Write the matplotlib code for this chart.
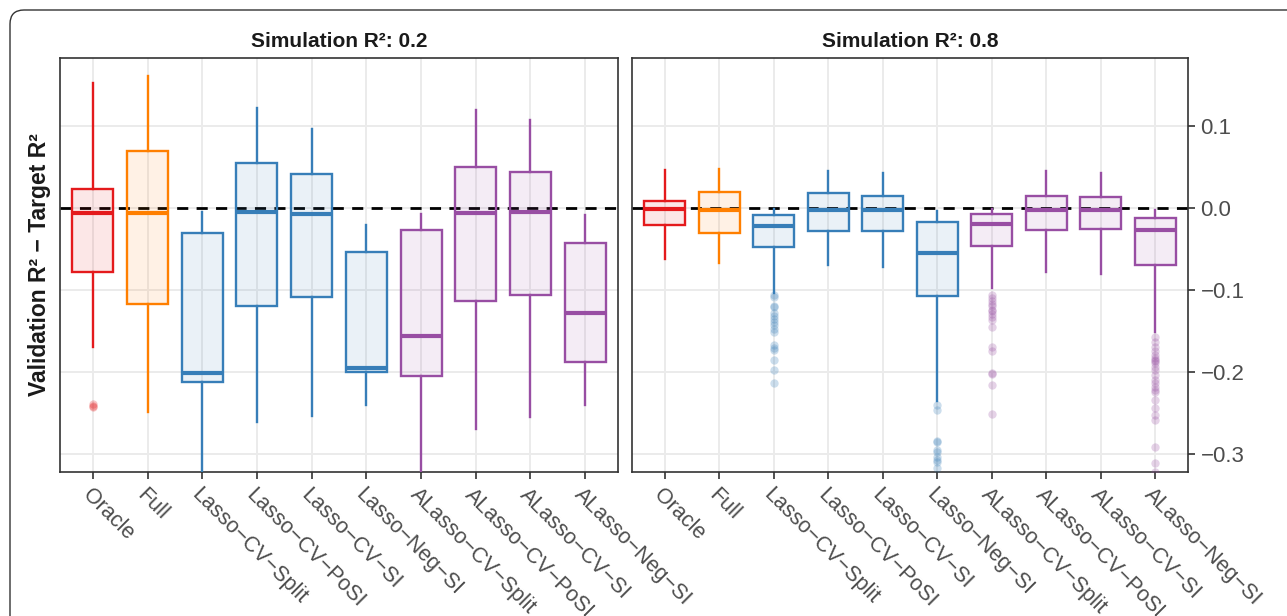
import matplotlib.pyplot as plt
from matplotlib.colors import to_rgba
from matplotlib.patches import FancyBboxPatch
from matplotlib.transforms import IdentityTransform

plt.rcParams['font.family'] = ['Liberation Sans', 'DejaVu Sans']

methods = ["Oracle", "Full", "Lasso-CV-Split", "Lasso-CV-PoSI", "Lasso-CV-SI",
           "Lasso-Neg-SI", "ALasso-CV-Split", "ALasso-CV-PoSI", "ALasso-CV-SI",
           "ALasso-Neg-SI"]
method_colors = ["#E41A1C", "#FF7F00", "#377EB8", "#377EB8", "#377EB8",
                 "#377EB8", "#984EA3", "#984EA3", "#984EA3", "#984EA3"]

# Simulation R^2 = 0.2
lo_02 = [-0.170, -0.249, -0.360, -0.261, -0.254, -0.240, -0.345, -0.269, -0.255, -0.240]
q1_02 = [-0.078, -0.117, -0.212, -0.119, -0.108, -0.200, -0.205, -0.113, -0.106, -0.188]
med_02 = [-0.0065, -0.0057, -0.201, -0.0049, -0.0069, -0.195, -0.156, -0.0065, -0.0049, -0.128]
q3_02 = [0.023, 0.069, -0.030, 0.055, 0.041, -0.054, -0.027, 0.050, 0.044, -0.043]
hi_02 = [0.153, 0.161, -0.005, 0.122, 0.097, -0.021, -0.007, 0.120, 0.107, -0.009]
fliers_02 = [[-0.239, -0.241, -0.243], [], [], [], [], [], [], [], [], []]

# Simulation R^2 = 0.8
lo_08 = [-0.062, -0.067, -0.104, -0.070, -0.072, -0.236, -0.098, -0.078, -0.081, -0.151]
q1_08 = [-0.021, -0.031, -0.048, -0.028, -0.028, -0.107, -0.046, -0.027, -0.026, -0.070]
med_08 = [-0.001, -0.002, -0.022, -0.002, -0.002, -0.055, -0.019, -0.002, -0.002, -0.027]
q3_08 = [0.009, 0.020, -0.009, 0.018, 0.015, -0.017, -0.007, 0.015, 0.014, -0.012]
hi_08 = [0.046, 0.047, -0.001, 0.045, 0.043, -0.004, -0.001, 0.045, 0.043, -0.002]
fliers_08 = [
    [], [],
    [-0.106, -0.108, -0.120, -0.121, -0.128, -0.132, -0.135, -0.139, -0.143,
     -0.147, -0.151, -0.167, -0.171, -0.173, -0.185, -0.198, -0.213],
    [], [],
    [-0.240, -0.246, -0.284, -0.286, -0.295, -0.298, -0.304, -0.307, -0.310, -0.317],
    [-0.106, -0.110, -0.114, -0.117, -0.120, -0.124, -0.126, -0.129, -0.133,
     -0.136, -0.145, -0.169, -0.175, -0.201, -0.202, -0.216, -0.251],
    [], [],
    [-0.157, -0.163, -0.169, -0.175, -0.179, -0.183, -0.185, -0.187, -0.189,
     -0.194, -0.198, -0.204, -0.210, -0.214, -0.218, -0.222, -0.224, -0.234,
     -0.244, -0.252, -0.258, -0.291, -0.311, -0.322],
]

panel_titles = ["Simulation R\u00b2: 0.2", "Simulation R\u00b2: 0.8"]
y_ticks = [0.1, 0.0, -0.1, -0.2, -0.3]
y_tick_labels = ["0.1", "0.0", "\u22120.1", "\u22120.2", "\u22120.3"]


def draw_panel(ax, lo, q1, med, q3, hi, fliers, title):
    stats = []
    for i in range(len(methods)):
        stats.append(dict(whislo=lo[i], q1=q1[i], med=med[i], q3=q3[i],
                          whishi=hi[i], fliers=fliers[i]))

    positions = list(range(1, len(methods) + 1))
    bp = ax.bxp(stats, positions=positions, widths=0.75, showcaps=False,
                patch_artist=True, zorder=3)

    for i, color in enumerate(method_colors):
        bp['boxes'][i].set_facecolor(to_rgba(color, 0.1))
        bp['boxes'][i].set_edgecolor(color)
        bp['boxes'][i].set_linewidth(1.7)
        bp['medians'][i].set_color(color)
        bp['medians'][i].set_linewidth(3.0)
        bp['medians'][i].set_solid_capstyle('butt')
        for w in bp['whiskers'][2 * i:2 * i + 2]:
            w.set_color(color)
            w.set_linewidth(1.7)
        fl = bp['fliers'][i]
        fl.set_marker('o')
        fl.set_markersize(6)
        fl.set_markerfacecolor(to_rgba(color, 0.25))
        fl.set_markeredgecolor('none')

    ax.axhline(0, color='black', lw=2.0, ls=(0, (4, 3)), zorder=2.5)

    ax.set_xlim(0.4, 10.6)
    ax.set_ylim(-0.322, 0.183)
    ax.set_yticks(y_ticks)
    ax.set_xticks(positions)
    # labels shown with minus-style dashes as in the figure
    ax.set_xticklabels([m.replace("-", "\u2212") for m in methods],
                       rotation=-45, ha='left', va='top',
                       rotation_mode='anchor', color='#4D4D4D', fontsize=15.5)
    ax.grid(True, color='#EBEBEB', lw=1.4, zorder=0)
    ax.set_axisbelow(True)
    ax.tick_params(axis='x', length=5, width=1.2, color='#333333', pad=4)
    for s in ax.spines.values():
        s.set_color('#333333')
        s.set_linewidth(1.2)
    ax.set_title(title, fontsize=15, fontweight='bold', color='#1A1A1A', pad=8)


fig = plt.figure(figsize=(12.87, 6.16), dpi=100)

# rounded frame around the figure
frame = FancyBboxPatch((10, -40), 1320, 616 - 10 + 40,
                       boxstyle="round,pad=0,rounding_size=14",
                       transform=IdentityTransform(), fill=False,
                       edgecolor='#333333', lw=1.0)
fig.patches.append(frame)

ax1 = fig.add_axes([60 / 1287, 1 - 472 / 616, 558 / 1287, 414 / 616])
ax2 = fig.add_axes([632 / 1287, 1 - 472 / 616, 556 / 1287, 414 / 616])

draw_panel(ax1, lo_02, q1_02, med_02, q3_02, hi_02, fliers_02, panel_titles[0])
draw_panel(ax2, lo_08, q1_08, med_08, q3_08, hi_08, fliers_08, panel_titles[1])

ax1.tick_params(axis='y', left=False, labelleft=False)
ax2.yaxis.tick_right()
ax2.set_yticklabels(y_tick_labels)
ax2.tick_params(axis='y', length=5, width=1.2, color='#333333',
                labelcolor='#4D4D4D', labelsize=16, pad=4)

fig.text(40 / 1287, 1 - 265 / 616, "Validation R\u00b2 \u2212 Target R\u00b2",
         rotation=90, ha='center', va='center', fontsize=16.5,
         fontweight='bold', color='#1A1A1A')

fig.savefig("out.png", dpi=100)
plt.close(fig)
